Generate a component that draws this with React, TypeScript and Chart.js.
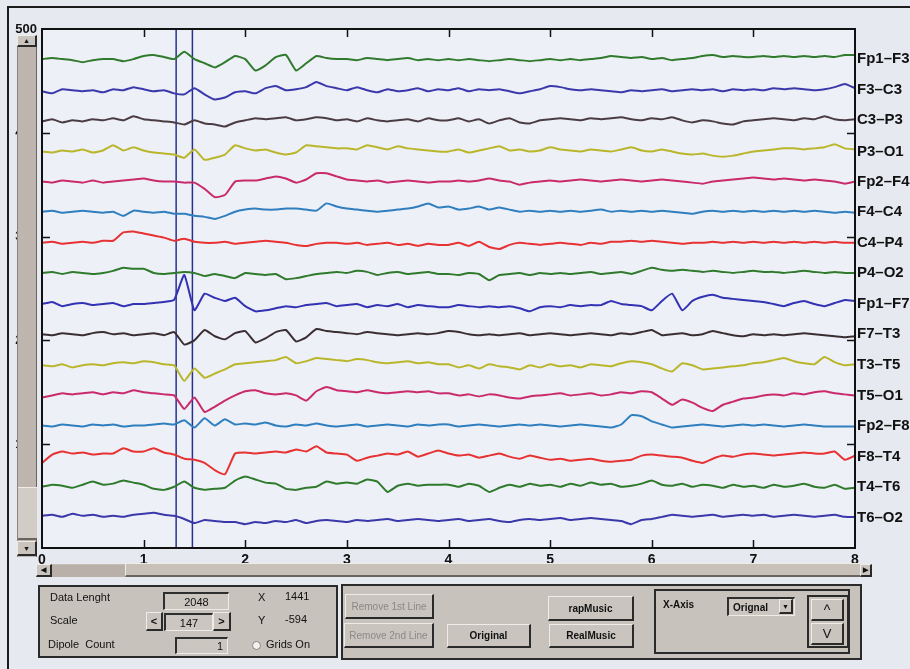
import React, { useEffect, useRef } from "react";
import { Chart, registerables } from "chart.js";

Chart.register(...registerables);

// Time axis (seconds)
const sampleTimes = [
  0, 0.1, 0.2, 0.3, 0.4, 0.5, 0.6, 0.7, 0.8, 0.9,
  1, 1.1, 1.2, 1.3, 1.4, 1.5, 1.6, 1.7, 1.8, 1.9,
  2, 2.1, 2.2, 2.3, 2.4, 2.5, 2.6, 2.7, 2.8, 2.9,
  3, 3.1, 3.2, 3.3, 3.4, 3.5, 3.6, 3.7, 3.8, 3.9,
  4, 4.1, 4.2, 4.3, 4.4, 4.5, 4.6, 4.7, 4.8, 4.9,
  5, 5.1, 5.2, 5.3, 5.4, 5.5, 5.6, 5.7, 5.8, 5.9,
  6, 6.1, 6.2, 6.3, 6.4, 6.5, 6.6, 6.7, 6.8, 6.9,
  7, 7.1, 7.2, 7.3, 7.4, 7.5, 7.6, 7.7, 7.8, 7.9,
  8,
];

const channelNames = [
  "Fp1–F3", "F3–C3", "C3–P3", "P3–O1", "Fp2–F4", "F4–C4", "C4–P4", "P4–O2",
  "Fp1–F7", "F7–T3", "T3–T5", "T5–O1", "Fp2–F8", "F8–T4", "T4–T6", "T6–O2",
];

const channelBaselines = [471, 441, 412, 382, 353, 324, 294, 265, 235, 206, 176, 147, 118, 88, 59, 29];

const channelColors = [
  "#2f7a2c", "#3a38aa", "#4a3c42", "#b9b62c", "#c92a6c", "#2f7fbf", "#e63232", "#2f7a2c",
  "#3232b2", "#3a2e32", "#b9b62c", "#c92a6c", "#2f7fbf", "#e63232", "#2f7a2c", "#3a38aa",
];

// Deviation from each channel's baseline
const fp1F3 = [0,1,0,-1,-3,-1,0,0,-2,0, 3,4,2,0,7,0,-4,-8,-3,3, 0,-11,-6,2,4,-11,-4,3,1,0, 0,-1,1,0,-1,0,1,-1,0,-1, 0,-1,0,-1,-2,-1,0,-1,-2,-1, 0,-1,0,-1,0,1,3,2,1,2, 0,1,-1,0,1,3,4,2,3,2, 2,3,2,3,2,3,2,3,2,4, 4];
const f3C3 = [-1,-3,1,0,-1,0,-2,1,0,3, 1,-1,0,-3,-4,2,-4,-9,-7,-2, -1,-3,2,4,0,1,3,8,4,2, 0,3,0,-2,1,-1,0,2,-1,1, 0,2,-1,1,0,1,-1,-3,-1,1, 4,3,1,0,1,0,-1,-2,0,-1, 0,1,-1,0,1,0,1,-1,1,0, 1,0,2,1,2,1,0,1,3,6, 2];
const c3P3 = [-1,1,-2,0,-1,1,0,2,0,4, 1,0,-1,-2,-4,0,-3,-4,-6,-2, 0,2,1,2,3,0,1,3,2,0, 1,-1,2,0,-1,0,1,-1,2,0, 0,2,-1,1,-3,0,2,-2,-3,0, 1,2,1,0,2,1,2,3,1,0, 2,1,3,0,-2,0,-1,-3,-4,-1, 0,1,2,1,0,2,1,4,1,0, 1];
const p3O1 = [0,-1,1,0,2,-1,1,6,1,4, 1,-1,-2,-3,-6,2,-8,-6,-3,6, 3,1,2,-1,-3,-1,6,5,4,3, 3,2,6,4,2,5,3,2,1,0, 0,2,-1,1,3,5,1,2,0,1, 4,2,1,0,2,1,0,2,4,1, 0,2,0,-2,-3,-2,-4,-5,-4,-2, 0,1,2,3,3,2,3,4,7,3, 2];
const fp2F4 = [0,-1,1,0,-1,1,-1,0,1,2, 3,1,0,0,-1,-1,-7,-15,-13,0, 1,1,3,5,3,-1,2,8,8,5, 2,1,0,1,-1,0,1,0,-1,0, 0,1,0,1,3,1,0,-3,-1,0, 1,0,1,2,1,0,1,2,1,0, 1,2,1,0,-1,-2,0,1,2,3, 4,3,2,3,2,1,2,1,0,-2, 0];
const f4C4 = [0,1,-1,0,1,0,-1,0,-4,1, 0,-1,0,-2,-2,-4,-5,-7,-4,0, 2,3,2,2,3,3,2,1,8,5, 3,2,1,0,1,2,3,5,8,4, 5,2,3,5,2,4,2,0,1,0, 1,0,1,0,1,2,0,1,0,1, 0,1,0,-1,-2,0,1,0,1,0, 1,0,1,0,1,0,1,0,-1,0, -1];
const c4P4 = [0,1,-1,0,1,0,2,2,10,11, 9,7,5,2,4,1,0,0,1,-1, 0,1,2,1,0,-2,-3,-1,0,0, -1,0,-2,-1,0,-2,-1,-3,-1,-2, -2,0,-3,1,-4,-6,-2,0,-1,-2, -1,0,-1,-2,0,-1,1,1,2,1, 2,1,0,-1,0,0,1,0,1,0, 1,0,1,0,1,0,1,0,1,0, 0];
const p4O2 = [0,1,-1,1,0,-1,0,2,5,4, 4,0,-1,0,1,0,-3,-1,-3,-5, 0,-1,-2,-1,-6,-5,-3,-1,0,1, 0,2,1,-2,0,1,-1,0,1,-1, -1,-2,0,-1,-7,-2,-1,0,-2,0, -1,0,-1,0,1,-1,0,1,-1,2, 5,3,2,3,2,1,2,1,0,1, 2,1,1,0,1,2,1,0,1,0, 0];
const fp1F7 = [0,2,-2,0,1,-1,0,1,-2,0, 0,1,2,4,28,-6,10,6,3,6, -2,-7,-6,-4,-2,-3,-1,0,1,-2, -1,0,-3,-1,-2,0,-3,-1,-2,-3, -3,-1,-2,-3,-2,-3,-2,-4,-7,-3, -2,-3,-1,-2,-1,-1,3,0,-1,-2, -6,3,10,-6,3,7,9,6,5,4, 3,2,0,-2,1,3,0,-2,1,4, 3];
const f7T3 = [0,-1,1,0,-1,1,2,0,1,-1, 0,1,-1,2,-10,-6,4,-2,-5,1, 3,-8,-4,2,4,-7,-3,5,3,2, 1,0,2,1,0,-1,0,1,0,1, 3,2,0,-1,0,-1,0,1,-1,0, 1,0,-1,0,1,0,-1,1,0,2, 4,-1,0,1,-1,0,3,1,-1,-2, 0,-1,0,-1,0,1,0,-1,-2,-3, -2];
const t3T5 = [0,-1,1,-2,0,1,0,2,3,2, 4,3,1,0,-15,-3,-12,-8,-4,1, 2,3,4,5,8,2,4,7,6,5, 4,6,5,3,2,3,4,2,3,1, 1,-2,0,-3,1,-1,-2,-4,0,-2, 1,-1,0,-2,1,0,-1,2,4,3, 1,-3,-6,2,0,-4,-3,-2,-1,0, 2,3,5,7,4,2,1,8,3,0, 1];
const t5O1 = [-2,0,2,1,2,3,1,3,2,5, 3,2,1,0,-13,-2,-16,-11,-5,0, 4,5,2,1,2,0,-5,4,8,5, 4,3,5,3,2,3,4,3,4,2, 2,0,1,-1,1,0,-2,-3,-1,0, 1,2,0,1,2,0,1,3,2,4, 3,-3,-9,-4,-7,-12,-15,-9,-6,-3, -2,0,1,0,2,1,3,4,2,1, 0];
const fp2F8 = [0,-1,1,0,-1,1,0,1,-1,0, 0,1,2,1,5,-2,7,0,6,1, 2,1,3,0,-1,1,0,2,0,-1, 0,1,-1,0,1,0,-1,1,0,1, 1,-1,0,1,0,-1,0,1,0,1, 0,-1,0,1,0,-1,-2,1,10,9, 4,1,-2,-1,0,1,0,-1,0,1, 0,1,0,-1,0,1,0,-1,-1,-1, -1];
const f8T4 = [-6,2,5,3,4,2,3,3,8,5, 5,8,4,2,-2,-3,-6,-13,-17,3, 4,3,4,5,4,7,5,10,4,3, 2,-4,-1,1,3,2,5,0,3,6, 3,1,2,-1,1,3,0,-2,1,-1, -3,-2,-4,-3,-2,-4,-5,-4,-3,1, 2,1,0,-1,-4,-6,-2,1,0,2, 3,2,1,2,3,4,3,3,5,-3, 1];
const t4T6 = [0,2,1,-1,2,5,2,3,6,4, 2,-2,-3,0,5,-1,-3,-2,-1,6, 10,7,4,3,-2,-3,-1,0,5,3, 4,3,7,5,-5,1,3,1,2,2, 2,0,3,1,-5,-1,2,0,3,1, 2,0,3,1,4,2,3,0,1,3, 6,2,1,3,0,2,1,-1,2,0, 1,-1,2,0,1,3,0,-1,2,-2, -1];
const t6O2 = [2,3,1,4,2,3,1,2,1,3, 4,5,3,2,-1,-5,-2,-3,-4,-4, -6,-4,-5,-3,-4,-2,-5,-3,-2,-3, -4,-2,-3,-2,-1,-3,-2,-1,-2,-3, -2,-1,-3,-2,-1,-3,-4,-2,-1,-2, -1,0,-2,-1,0,-1,-2,-3,-6,-2, -1,1,3,2,1,2,3,1,2,3, 2,3,1,2,3,2,1,2,3,1, 1];

const channelSignals = [fp1F3, f3C3, c3P3, p3O1, fp2F4, f4C4, c4P4, p4O2, fp1F7, f7T3, t3T5, t5O1, fp2F8, f8T4, t4T6, t6O2];

// Cursor lines (seconds)
const cursorTimes = [1.32, 1.48];

const xTickMax = 8;
const yTickMax = 500;

const FONT = "'Liberation Sans', Arial, sans-serif";

const framePlugin = {
  id: "frame",
  beforeDraw(chart: any) {
    const { ctx, chartArea } = chart;
    ctx.save();
    ctx.fillStyle = "#eef0f7";
    ctx.fillRect(chartArea.left, chartArea.top, chartArea.right - chartArea.left, chartArea.bottom - chartArea.top);
    ctx.restore();
  },
  afterDraw(chart: any) {
    const { ctx, chartArea } = chart;
    const { left, right, top, bottom } = chartArea;
    const xs = chart.scales.x;
    const ys = chart.scales.y;
    ctx.save();
    ctx.strokeStyle = "#111";
    ctx.lineWidth = 1.5;
    ctx.beginPath();
    xs.ticks.forEach((t: any) => {
      if (t.value <= xs.min || t.value >= xs.max) return;
      const px = Math.round(xs.getPixelForValue(t.value)) + 0.5;
      ctx.moveTo(px, bottom);
      ctx.lineTo(px, bottom - 8);
      ctx.moveTo(px, top);
      ctx.lineTo(px, top + 8);
    });
    ys.ticks.forEach((t: any) => {
      if (t.value <= ys.min || t.value >= ys.max) return;
      const py = Math.round(ys.getPixelForValue(t.value)) + 0.5;
      ctx.moveTo(left, py);
      ctx.lineTo(left + 8, py);
      ctx.moveTo(right, py);
      ctx.lineTo(right - 8, py);
    });
    ctx.stroke();
    ctx.lineWidth = 2;
    ctx.strokeRect(left, top, right - left, bottom - top);
    ctx.restore();
  },
};

const box = (x: number, y: number, w: number, h: number, extra: React.CSSProperties = {}): React.CSSProperties => ({
  position: "absolute",
  left: x,
  top: y,
  width: w,
  height: h,
  boxSizing: "border-box",
  ...extra,
});

const sunken: React.CSSProperties = {
  background: "#cbc6c0",
  borderTop: "2px solid #2e2e2e",
  borderLeft: "2px solid #2e2e2e",
  borderRight: "1px solid #efebe7",
  borderBottom: "1px solid #efebe7",
  display: "flex",
  alignItems: "center",
  fontSize: 11,
  color: "#111",
};

const raised: React.CSSProperties = {
  background: "#c9c4be",
  borderTop: "1px solid #efebe7",
  borderLeft: "1px solid #efebe7",
  borderRight: "2px solid #2a2a2a",
  borderBottom: "2px solid #2a2a2a",
  display: "flex",
  alignItems: "center",
  justifyContent: "center",
  fontSize: 10,
  fontWeight: "bold",
  color: "#111",
};

function Txt({ x, y, children, size = 11, bold = false, color = "#111" }: any) {
  return (
    <div style={{ position: "absolute", left: x, top: y, fontSize: size, fontWeight: bold ? "bold" : "normal", color, whiteSpace: "nowrap", lineHeight: "13px" }}>
      {children}
    </div>
  );
}

export default function App() {
  const canvasRef = useRef<HTMLCanvasElement>(null);

  useEffect(() => {
    const datasets: any[] = channelSignals.map((sig, c) => ({
      label: channelNames[c],
      data: sig.map((v, i) => ({ x: sampleTimes[i], y: channelBaselines[c] + v })),
      borderColor: channelColors[c],
      borderWidth: 2,
      pointRadius: 0,
      tension: 0.15,
      fill: false,
    }));
    cursorTimes.forEach((t) => {
      datasets.push({
        label: "cursor",
        data: [{ x: t, y: 0 }, { x: t, y: yTickMax }],
        borderColor: "#27328f",
        borderWidth: 1.5,
        pointRadius: 0,
        fill: false,
      });
    });

    const chart = new Chart(canvasRef.current!, {
      type: "line",
      data: { datasets },
      options: {
        animation: false,
        responsive: false,
        maintainAspectRatio: false,
        layout: { padding: { left: 0, right: 0, top: 29, bottom: 2 } },
        plugins: { legend: { display: false }, tooltip: { enabled: false } },
        scales: {
          x: {
            type: "linear",
            min: 0,
            max: xTickMax,
            grid: { display: false, drawTicks: false },
            border: { display: false },
            ticks: { stepSize: 1, color: "#111", padding: 4, font: { family: FONT, size: 14, weight: "bold" } },
            afterFit: (s: any) => { s.height = 40; },
          },
          y: {
            type: "linear",
            position: "left",
            min: 0,
            max: yTickMax,
            grid: { display: false, drawTicks: false },
            border: { display: false },
            ticks: { stepSize: 100, color: "#111", padding: 5, font: { family: FONT, size: 13, weight: "bold" } },
            afterFit: (s: any) => { s.width = 42; },
          },
          y2: {
            type: "linear",
            position: "right",
            min: 0,
            max: yTickMax,
            grid: { display: false, drawTicks: false },
            border: { display: false },
            afterBuildTicks: (s: any) => { s.ticks = channelBaselines.map((v) => ({ value: v })); },
            ticks: {
              autoSkip: false,
              color: "#111",
              padding: 2,
              font: { family: FONT, size: 15, weight: "bold" },
              callback: (value: any) => channelNames[channelBaselines.indexOf(value)] ?? "",
            },
            afterFit: (s: any) => { s.width = 55; },
          },
        },
      } as any,
      plugins: [framePlugin],
    });
    return () => chart.destroy();
  }, []);

  return (
    <div style={box(0, 0, 910, 669, { background: "#e7e9f1", overflow: "hidden", fontFamily: FONT })}>
      <div style={box(7, 6, 910, 670, { borderLeft: "2px solid #1c1c1c", borderTop: "2px solid #1c1c1c" })} />
      <canvas ref={canvasRef} width={910} height={590} style={{ position: "absolute", left: 0, top: 0, width: 910, height: 590 }} />

      {/* vertical scrollbar */}
      <div style={box(17, 35, 20, 522, { background: "#bdb5ae", borderLeft: "1px solid #8c857f", borderRight: "1px solid #6a645f" })} />
      <div style={box(17, 35, 20, 12, { ...raised, fontSize: 7 })}>▲</div>
      <div style={box(18, 487, 19, 53, { background: "#d2ccc6", borderTop: "1px solid #efebe7", borderBottom: "2px solid #6a645f" })} />
      <div style={box(17, 541, 20, 15, { ...raised, fontSize: 7 })}>▼</div>

      {/* horizontal scrollbar */}
      <div style={box(36, 564, 836, 13, { background: "#c4bdb6", borderBottom: "1px solid #6a645f" })} />
      <div style={box(36, 564, 16, 13, { ...raised, fontSize: 7 })}>◀</div>
      <div style={box(52, 565, 73, 12, { background: "#b8b0a9" })} />
      <div style={box(125, 563, 735, 14, { background: "#c8c1ba", borderTop: "1px solid #efebe7", borderLeft: "1px solid #efebe7", borderBottom: "2px solid #6a645f" })} />
      <div style={box(860, 564, 12, 13, { ...raised, fontSize: 7 })}>▶</div>

      {/* left control panel */}
      <div style={box(38, 585, 300, 73, { background: "#c7c2bc", border: "2px solid #2a2a2a" })} />
      <Txt x={50} y={591}>Data Lenght</Txt>
      <Txt x={50} y={614}>Scale</Txt>
      <Txt x={48} y={638}>Dipole&nbsp;&nbsp;Count</Txt>
      <div style={box(163, 592, 66, 18, { ...sunken, justifyContent: "center" })}>2048</div>
      <div style={box(146, 612, 17, 19, { ...raised, fontSize: 11 })}>&lt;</div>
      <div style={box(164, 613, 49, 18, { ...sunken, justifyContent: "center" })}>147</div>
      <div style={box(213, 612, 18, 19, { ...raised, fontSize: 11 })}>&gt;</div>
      <div style={box(175, 637, 53, 17, { ...sunken, justifyContent: "flex-end", paddingRight: 4 })}>1</div>
      <Txt x={258} y={591}>X</Txt>
      <Txt x={285} y={590}>1441</Txt>
      <Txt x={258} y={614}>Y</Txt>
      <Txt x={285} y={613}>-594</Txt>
      <div style={box(252, 641, 9, 9, { borderRadius: "50%", background: "#f4f2f0", border: "1px solid #8a847e" })} />
      <Txt x={266} y={638}>Grids On</Txt>

      {/* middle panel */}
      <div style={box(341, 584, 521, 76, { background: "#c7c2bc", border: "2px solid #2a2a2a" })} />
      <div style={box(345, 594, 89, 25, { ...raised, fontWeight: "normal", color: "#8d8884" })}>Remove 1st Line</div>
      <div style={box(344, 623, 90, 25, { ...raised, fontWeight: "normal", color: "#8d8884" })}>Remove 2nd Line</div>
      <div style={box(447, 624, 84, 24, raised)}>Original</div>
      <div style={box(548, 596, 86, 25, raised)}>rapMusic</div>
      <div style={box(549, 624, 85, 24, raised)}>RealMusic</div>

      {/* x-axis sub panel */}
      <div style={box(654, 589, 196, 65, { background: "#c7c2bc", border: "2px solid #2a2a2a" })} />
      <Txt x={663} y={598} size={10} bold>X-Axis</Txt>
      <div style={box(727, 597, 68, 19, { ...sunken, fontSize: 10, fontWeight: "bold", paddingLeft: 4 })}>Orignal</div>
      <div style={box(779, 599, 14, 15, { ...raised, fontSize: 7 })}>▼</div>
      <div style={box(807, 595, 42, 53, { border: "2px solid #2a2a2a", background: "#c7c2bc" })} />
      <div style={box(811, 599, 33, 22, { ...raised, fontSize: 14, fontWeight: "normal" })}>^</div>
      <div style={box(811, 623, 33, 22, { ...raised, fontSize: 13, fontWeight: "normal" })}>V</div>
    </div>
  );
}
